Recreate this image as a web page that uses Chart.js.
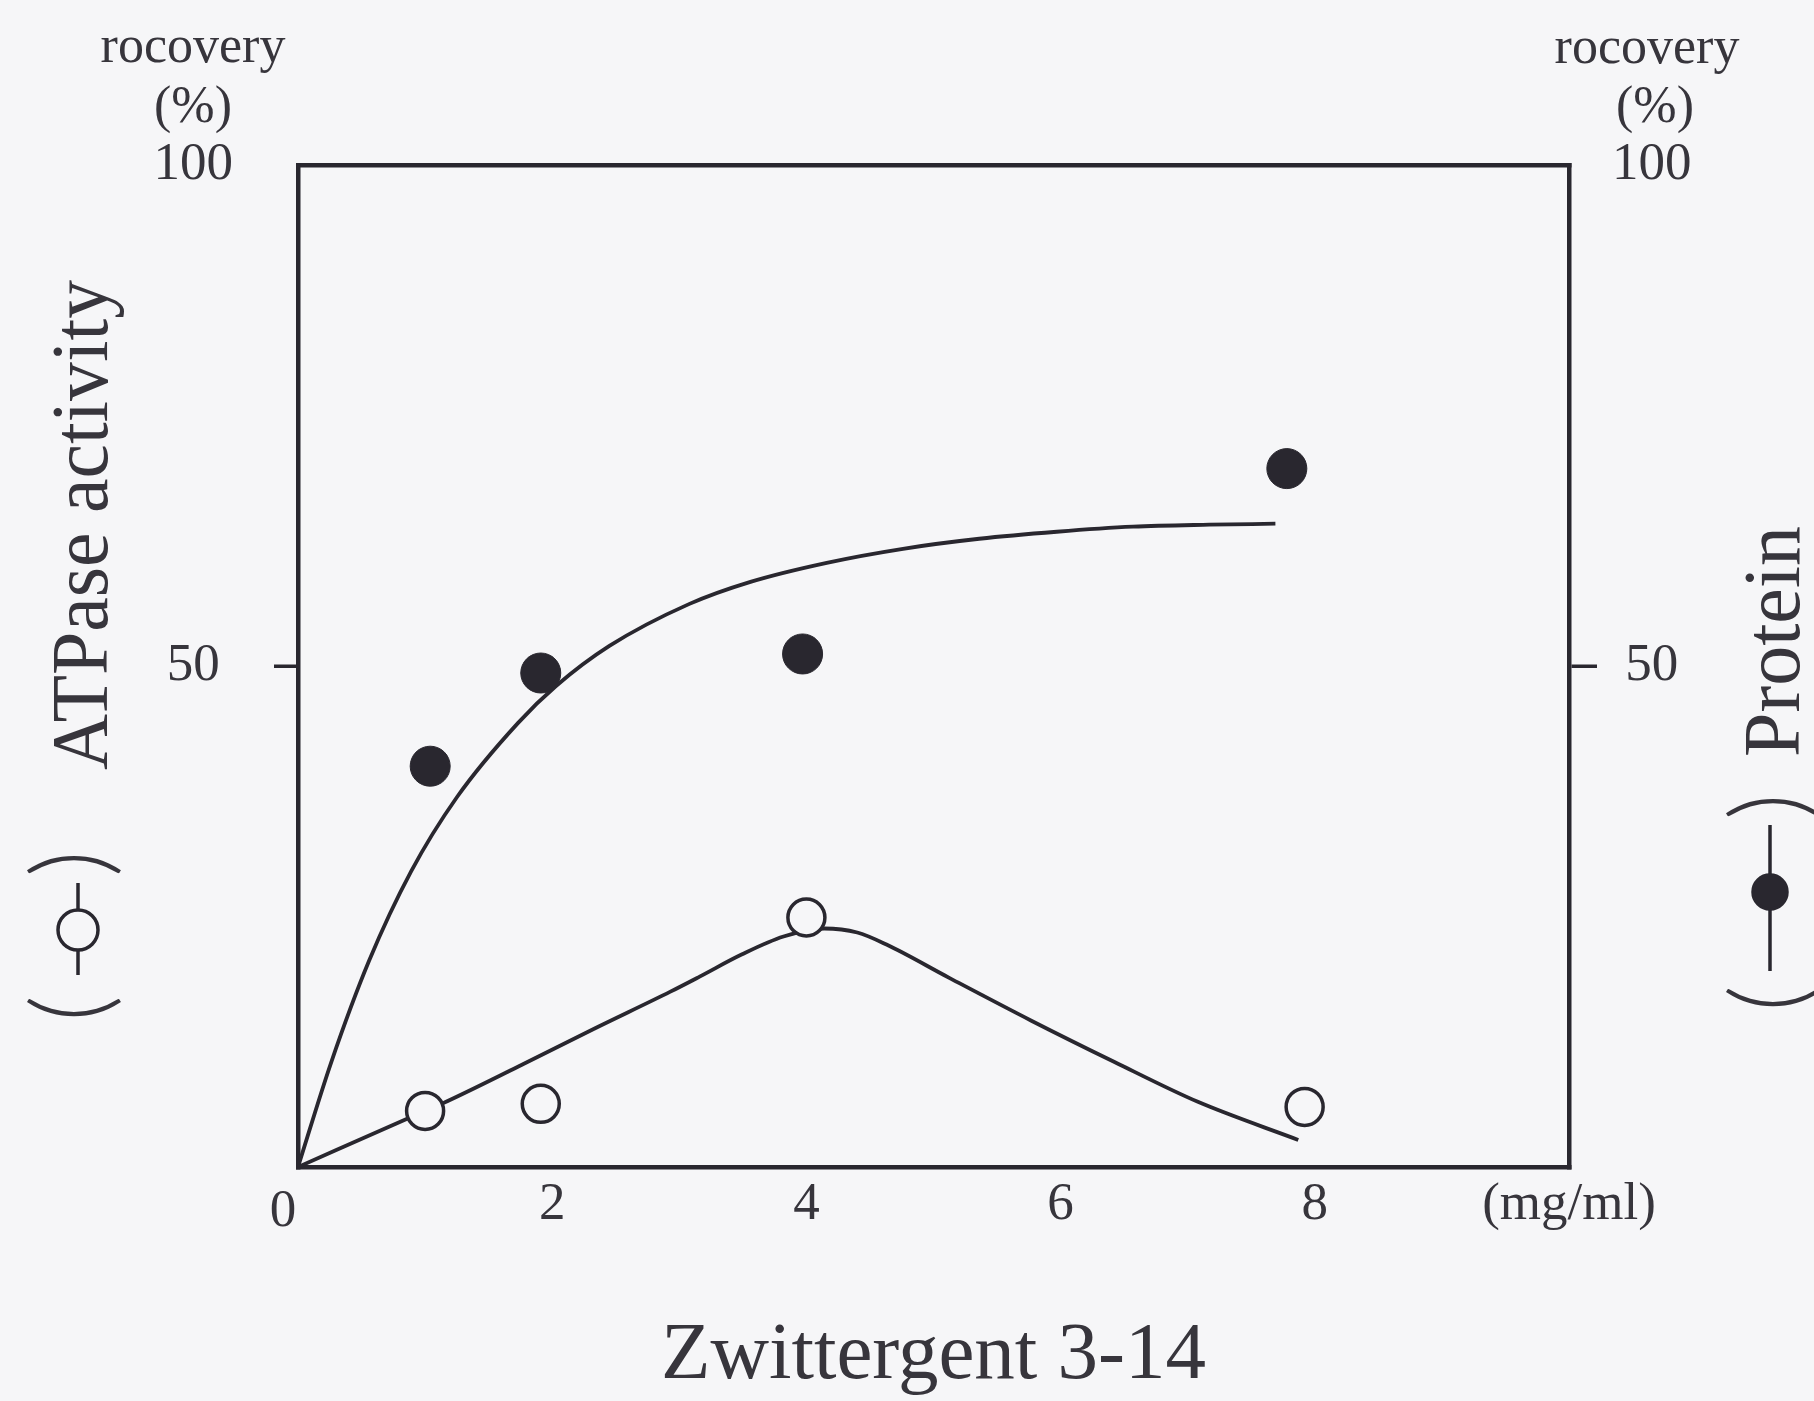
<!DOCTYPE html>
<html>
<head>
<meta charset="utf-8">
<script src="https://cdn.jsdelivr.net/npm/chart.js@4.4.1/dist/chart.umd.min.js"></script>
<style>
  html, body { margin: 0; padding: 0; background: #f6f6f8; }
  canvas { display: block; }
</style>
</head>
<body>
<canvas id="fig" width="1814" height="1401"></canvas>
<script>
// Measured recoveries (%) against Zwittergent 3-14 concentration (mg/ml)
const proteinConc = [1.04, 1.91, 3.97, 7.78];
const proteinRecovery = [40.0, 49.3, 51.2, 69.7];
const atpaseConc = [1.0, 1.91, 4.0, 7.92];
const atpaseRecovery = [5.6, 6.3, 24.9, 6.0];

// Hand-fitted trend curves drawn through each series
const proteinCurveX = [0, 0.26, 0.56, 0.89, 1.25, 1.73, 2.03, 2.45, 3.08, 3.56, 4.16, 4.76, 5.36, 5.97, 6.57, 7.17, 7.69];
const proteinCurveY = [0, 10.4, 20.6, 29.5, 36.9, 44.3, 48.0, 52.0, 56.2, 58.4, 60.3, 61.7, 62.7, 63.4, 63.9, 64.1, 64.2];
const atpaseCurveX = [0, 0.89, 1.13, 1.73, 2.33, 2.93, 3.16, 3.49, 3.82, 4.14, 4.40, 4.63, 5.12, 5.77, 6.42, 7.08, 7.87];
const atpaseCurveY = [0, 5.0, 6.3, 10.0, 13.8, 17.5, 19.0, 21.2, 23.0, 23.8, 23.4, 22.2, 18.9, 14.6, 10.5, 6.5, 2.7];

// Axis ticks
const xTickValues = [0, 2, 4, 6, 8, 10];
const xTickLabels = ['0', '2', '4', '6', '8', '(mg/ml)'];
const yTickValues = [50, 100];
const yTickLabels = ['50', '100'];

const BG = '#f6f6f8';
const INK = '#29272f';
const TEXT = '#37353c';
const SERIF = "'Liberation Serif', 'Times New Roman', serif";
const FRAME = 4.5;

const pts = (xs, ys) => xs.map((x, i) => ({ x: x, y: ys[i] }));

// Paper background, caption lines above the 100 marks, the corner "0",
// and the two vertical axis titles with their series symbols.
const figureText = {
  id: 'figureText',
  beforeDraw(chart) {
    const ctx = chart.ctx;
    ctx.save();
    ctx.fillStyle = BG;
    ctx.fillRect(0, 0, chart.width, chart.height);
    ctx.restore();
  },
  afterDraw(chart) {
    const ctx = chart.ctx;
    const { left, right, top, bottom } = chart.chartArea;
    ctx.save();
    ctx.fillStyle = TEXT;
    ctx.textAlign = 'center';
    ctx.textBaseline = 'alphabetic';
    ctx.font = '52px ' + SERIF;
    // "rocovery (%)" above each 100 label
    ctx.fillText('rocovery', left - 105, top - 103);
    ctx.fillText('(%)', left - 105, top - 43);
    ctx.fillText('rocovery', right + 78, top - 102);
    ctx.fillText('(%)', right + 86, top - 43);

    // origin label sits just below-left of the corner
    ctx.font = '53px ' + SERIF;
    ctx.textBaseline = 'middle';
    ctx.fillText(xTickLabels[0], left - 15, bottom + 45);
    ctx.restore();

    const title = (cx, y0, o) => {
      ctx.save();
      ctx.translate(cx, y0);
      ctx.rotate(-Math.PI / 2);
      ctx.fillStyle = TEXT;
      ctx.textBaseline = 'alphabetic';
      ctx.textAlign = 'left';
      ctx.font = "300 104px Lato, " + SERIF;
      ctx.fillText('(', o.open, o.parenBase);
      ctx.fillText(')', o.close, o.parenBase);
      // line-and-marker symbol
      ctx.strokeStyle = INK;
      ctx.lineWidth = 3.5;
      ctx.beginPath();
      ctx.moveTo(o.lineFrom, 0);
      ctx.lineTo(o.lineTo, 0);
      ctx.stroke();
      ctx.beginPath();
      ctx.arc(o.mark, 0, o.r, 0, Math.PI * 2);
      ctx.fillStyle = o.filled ? INK : BG;
      ctx.fill();
      ctx.stroke();
      ctx.fillStyle = TEXT;
      ctx.font = '80px ' + SERIF;
      ctx.fillText(o.text, o.textAt, o.textBase, o.maxWidth);
      ctx.restore();
    };
    title(left - 220, bottom - 149, {
      open: -4, close: 141, parenBase: 29, lineFrom: 43, lineTo: 135, mark: 88, r: 20,
      filled: false, text: 'ATPase activity', textAt: 248, textBase: 29, maxWidth: 490
    });
    title(right + 201, bottom - 159, {
      open: -4, close: 188, parenBase: 36, lineFrom: 37, lineTo: 183, mark: 116, r: 17,
      filled: true, text: 'Protein', textAt: 251, textBase: 29, maxWidth: 232
    });
  }
};

const tickFont = { family: SERIF, size: 53, lineHeight: 1.15 };

new Chart(document.getElementById('fig'), {
  type: 'scatter',
  data: {
    datasets: [
      {
        label: 'ATPase activity',
        data: pts(atpaseConc, atpaseRecovery),
        showLine: false,
        pointRadius: 18.5,
        pointBorderWidth: 3.5,
        pointBackgroundColor: BG,
        pointBorderColor: INK,
        order: 0
      },
      {
        label: 'Protein',
        data: pts(proteinConc, proteinRecovery),
        showLine: false,
        pointRadius: 20,
        pointBorderWidth: 1,
        pointBackgroundColor: INK,
        pointBorderColor: INK,
        order: 1
      },
      {
        label: 'ATPase trend',
        data: pts(atpaseCurveX, atpaseCurveY),
        showLine: true,
        borderColor: INK,
        borderWidth: 3.8,
        pointRadius: 0,
        cubicInterpolationMode: 'monotone',
        fill: false,
        order: 2
      },
      {
        label: 'Protein trend',
        data: pts(proteinCurveX, proteinCurveY),
        showLine: true,
        borderColor: INK,
        borderWidth: 3.8,
        pointRadius: 0,
        cubicInterpolationMode: 'monotone',
        fill: false,
        order: 3
      }
    ]
  },
  options: {
    responsive: false,
    animation: false,
    events: [],
    layout: { padding: { top: 165, left: 0, right: 0, bottom: 0 } },
    plugins: {
      legend: { display: false },
      tooltip: { enabled: false }
    },
    scales: {
      x: {
        type: 'linear',
        position: 'bottom',
        min: 0,
        max: 10,
        afterBuildTicks: s => { s.ticks = xTickValues.map(v => ({ value: v })); },
        afterFit: s => { s.height = 234; },
        grid: { display: false, lineWidth: FRAME },
        border: { display: true, color: INK, width: FRAME },
        ticks: {
          autoSkip: false,
          maxRotation: 0,
          padding: 0,
          color: TEXT,
          font: tickFont,
          callback: v => (v === 0 ? '' : xTickLabels[xTickValues.indexOf(v)])
        },
        title: {
          display: true,
          text: 'Zwittergent 3-14',
          color: TEXT,
          font: { family: SERIF, size: 81, lineHeight: 1 },
          padding: { top: 0, bottom: 3.5 }
        }
      },
      xTop: {
        type: 'linear',
        axis: 'x',
        position: 'top',
        min: 0,
        max: 10,
        afterFit: s => { s.height = 0; },
        grid: { display: false, lineWidth: FRAME },
        border: { display: true, color: INK, width: FRAME },
        ticks: { display: false }
      },
      y: {
        type: 'linear',
        position: 'left',
        min: 0,
        max: 100,
        afterBuildTicks: s => { s.ticks = yTickValues.map(v => ({ value: v })); },
        afterFit: s => { s.width = 298; },
        grid: {
          drawOnChartArea: false,
          drawTicks: true,
          tickLength: 24,
          tickWidth: 3.5,
          lineWidth: FRAME,
          color: 'rgba(0,0,0,0)',
          tickColor: c => (c.tick && c.tick.value === 50 ? INK : 'rgba(0,0,0,0)')
        },
        border: { display: true, color: INK, width: FRAME },
        ticks: {
          padding: 41,
          crossAlign: 'center',
          color: TEXT,
          font: tickFont,
          callback: v => yTickLabels[yTickValues.indexOf(v)]
        }
      },
      y1: {
        type: 'linear',
        position: 'right',
        min: 0,
        max: 100,
        afterBuildTicks: s => { s.ticks = yTickValues.map(v => ({ value: v })); },
        afterFit: s => { s.width = 245; },
        grid: {
          drawOnChartArea: false,
          drawTicks: true,
          tickLength: 28,
          tickWidth: 3.5,
          lineWidth: FRAME,
          color: 'rgba(0,0,0,0)',
          tickColor: c => (c.tick && c.tick.value === 50 ? INK : 'rgba(0,0,0,0)')
        },
        border: { display: true, color: INK, width: FRAME },
        ticks: {
          padding: 15,
          crossAlign: 'center',
          color: TEXT,
          font: tickFont,
          callback: v => yTickLabels[yTickValues.indexOf(v)]
        }
      }
    }
  },
  plugins: [figureText]
});
</script>
</body>
</html>
